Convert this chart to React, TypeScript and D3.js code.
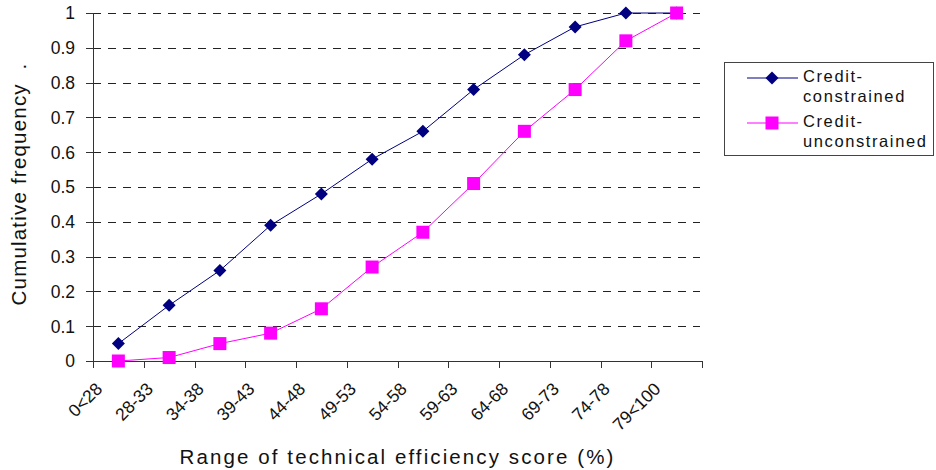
import React from 'react';
import * as d3 from 'd3';

const categories = ['0<28', '28-33', '34-38', '39-43', '44-48', '49-53', '54-58', '59-63', '64-68', '69-73', '74-78', '79<100'];
const constrained = [0.05, 0.16, 0.26, 0.39, 0.48, 0.58, 0.66, 0.78, 0.88, 0.96, 1.0, 1.0];
const unconstrained = [0, 0.01, 0.05, 0.08, 0.15, 0.27, 0.37, 0.51, 0.66, 0.78, 0.92, 1.0];
const yTicks = [0, 0.1, 0.2, 0.3, 0.4, 0.5, 0.6, 0.7, 0.8, 0.9, 1];

const NAVY = '#000080';
const PINK = '#ff00ff';
const FONT = '"Liberation Sans", Arial, sans-serif';

const diamond = (cx: number, cy: number, r: number) =>
  `M${cx},${cy - r}L${cx + r},${cy}L${cx},${cy + r}L${cx - r},${cy}Z`;

const App: React.FC = () => {
  const width = 936;
  const height = 470;
  const plot = { left: 93, right: 702, top: 13, bottom: 361 };

  const x = d3.scaleBand<string>().domain(categories).range([plot.left, plot.right]);
  const y = d3.scaleLinear().domain([0, 1]).range([plot.bottom, plot.top]);
  const cx = (i: number) => (x(categories[i]) ?? 0) + x.bandwidth() / 2;

  const line = d3.line<number>()
    .x((_, i) => cx(i))
    .y(d => y(d));

  const boundaries = categories.map(c => x(c) ?? 0).concat([plot.right]);

  return (
    <svg width={width} height={height} style={{ position: 'absolute', left: 0, top: 0, background: '#fff' }}
      fontFamily={FONT}>
      <rect width={width} height={height} fill="#fff" />

      {/* gridlines */}
      {yTicks.filter(t => t > 0).map(t => (
        <line key={t} x1={plot.left} x2={700} y1={Math.round(y(t)) + 0.5} y2={Math.round(y(t)) + 0.5}
          stroke="#222" strokeDasharray="8,7" />
      ))}

      {/* axes */}
      <line x1={plot.left + 0.5} x2={plot.left + 0.5} y1={plot.top} y2={plot.bottom + 0.5} stroke="#333" />
      <line x1={plot.left} x2={plot.right + 0.5} y1={plot.bottom + 0.5} y2={plot.bottom + 0.5} stroke="#333" />
      {yTicks.map(t => (
        <g key={t}>
          <line x1={86} x2={plot.left} y1={Math.round(y(t)) + 0.5} y2={Math.round(y(t)) + 0.5} stroke="#333" />
          <text x={75} y={y(t)} dy="0.36em" textAnchor="end" fontSize={17.5} fill="#111">{t}</text>
        </g>
      ))}
      {boundaries.map((b, i) => (
        <line key={i} x1={Math.round(b) + 0.5} x2={Math.round(b) + 0.5} y1={plot.bottom} y2={plot.bottom + 7} stroke="#333" />
      ))}
      {categories.map((c, i) => (
        <text key={c} transform={`translate(${cx(i) - 15},${plot.bottom + 29}) rotate(-45)`}
          textAnchor="end" fontSize={17.5} fill="#111">{c}</text>
      ))}

      {/* series */}
      <path d={line(constrained) ?? ''} fill="none" stroke={NAVY} strokeWidth={1} />
      {constrained.map((v, i) => (
        <path key={i} d={diamond(cx(i), y(v), 6.5)} fill={NAVY} />
      ))}
      <path d={line(unconstrained) ?? ''} fill="none" stroke={PINK} strokeWidth={1} />
      {unconstrained.map((v, i) => (
        <rect key={i} x={cx(i) - 6.5} y={y(v) - 6.5} width={13} height={13} fill={PINK} />
      ))}

      {/* axis titles */}
      <text transform={`translate(26,${(plot.top + plot.bottom) / 2 - 3}) rotate(-90)`} textAnchor="middle"
        fontSize={20.5} letterSpacing={1.2} fill="#111" style={{ whiteSpace: 'pre' }}>
        {'Cumulative frequency  .'}
      </text>
      <text x={(plot.left + plot.right) / 2} y={464} textAnchor="middle" fontSize={20.5} letterSpacing={2.1} fill="#111">
        Range of technical efficiency score (%)
      </text>

      {/* legend */}
      <rect x={724.5} y={62.5} width={209} height={93} fill="#fff" stroke="#444" />
      <line x1={747} x2={798} y1={78} y2={78} stroke={NAVY} />
      <path d={diamond(772, 78, 6.5)} fill={NAVY} />
      <line x1={747} x2={798} y1={123} y2={123} stroke={PINK} />
      <rect x={765.5} y={116.5} width={13} height={13} fill={PINK} />
      <g fontSize={16.5} letterSpacing={1.6} fill="#111">
        <text x={803} y={82}>Credit-</text>
        <text x={803} y={102}>constrained</text>
        <text x={803} y={127}>Credit-</text>
        <text x={803} y={147}>unconstrained</text>
      </g>
    </svg>
  );
};

export default App;
